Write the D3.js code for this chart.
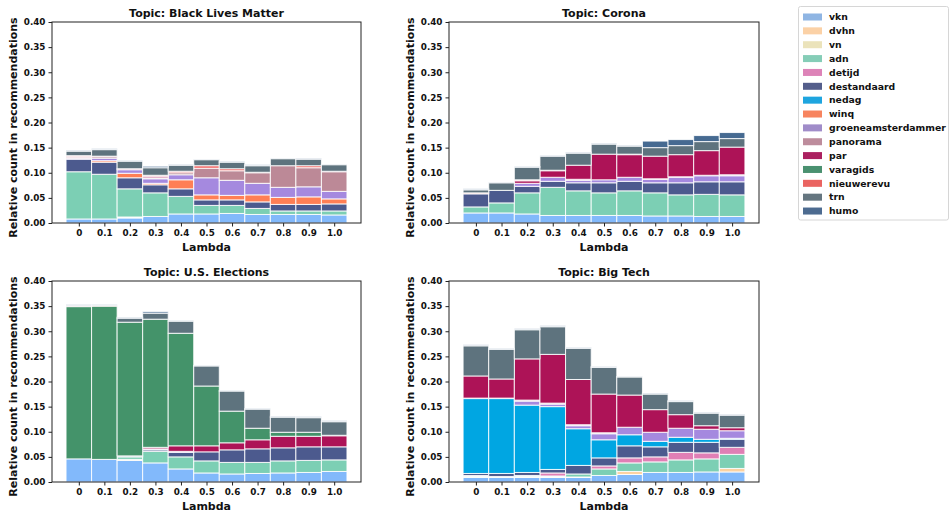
<!DOCTYPE html>
<html>
<head>
<meta charset="utf-8">
<script src="https://cdn.jsdelivr.net/npm/d3@7"></script>
<style>
  html, body { margin: 0; padding: 0; background: #fff; }
  svg text { font-family: "DejaVu Sans", sans-serif; font-weight: bold; fill: #111; }
</style>
</head>
<body>
<svg id="chart" width="952" height="512"></svg>
<script>
// Lambda values on the x axis
const lambdas = [0, 0.1, 0.2, 0.3, 0.4, 0.5, 0.6, 0.7, 0.8, 0.9, 1.0];
const lambdaLabels = ["0", "0.1", "0.2", "0.3", "0.4", "0.5", "0.6", "0.7", "0.8", "0.9", "1.0"];
const yTicks = [0, 0.05, 0.1, 0.15, 0.2, 0.25, 0.3, 0.35, 0.4];

// News sources, bottom to top of each stack
const sources = ["vkn", "dvhn", "vn", "adn", "detijd", "destandaard", "nedag", "winq",
  "groeneamsterdammer", "panorama", "par", "varagids", "nieuwerevu", "trn", "humo"];
const colors = ["#82b9fb", "#fcd2a2", "#ece3b6", "#7ccfb4", "#e07fb5", "#4c5a8e", "#00a6e2", "#ff7f55",
  "#a589df", "#bc8997", "#ad1357", "#44936a", "#f0605e", "#5e737e", "#466a91"];
const legendColors = ["#8fb5e3", "#fbd1a6", "#ebe3bb", "#85cdb7", "#dd83b8", "#545e8b", "#1ea5df", "#f7845f",
  "#a08cc9", "#bd8c9c", "#ab2060", "#4a9170", "#ea6461", "#657680", "#4d6b90"];

// Relative counts per lambda (rows) and source (columns, same order as `sources`)
const blackLivesMatter = [
  [.008, 0, 0, .094, 0, .025, 0, 0, .002, .002, .002, 0, .001, .009, .002],
  [.008, 0, 0, .089, 0, .024, 0, .003, .005, .003, 0, 0, .001, .013, .002],
  [.010, .001, .001, .056, 0, .022, 0, .009, .007, 0, .002, 0, 0, .015, .001],
  [.013, 0, 0, .047, 0, .016, 0, .003, .009, .002, .003, 0, .002, .015, .003],
  [.018, 0, 0, .035, 0, .015, 0, .018, .010, .004, 0, 0, .003, .012, .002],
  [.018, 0, 0, .017, 0, .011, 0, .010, .034, .019, 0, 0, .005, .012, .001],
  [.019, 0, 0, .016, 0, .011, 0, .009, .030, .019, 0, 0, .004, .013, .002],
  [.017, 0, 0, .012, 0, .013, 0, .014, .023, .021, 0, 0, .001, .013, .002],
  [.017, 0, 0, .007, 0, .013, 0, .014, .020, .043, 0, 0, 0, .014, .001],
  [.017, 0, 0, .007, 0, .013, 0, .015, .020, .038, 0, 0, .004, .013, .002],
  [.016, 0, 0, .008, 0, .014, 0, .010, .015, .039, .001, 0, 0, .013, .001]
];
const corona = [
  [.020, 0, 0, .012, 0, .026, 0, 0, 0, 0, 0, 0, .002, .006, .002],
  [.020, 0, 0, .020, 0, .025, 0, 0, 0, 0, 0, 0, 0, .015, .001],
  [.018, 0, 0, .042, 0, .013, 0, 0, .006, 0, .005, 0, .002, .025, .001],
  [.015, 0, 0, .056, 0, .012, 0, 0, .008, 0, .013, 0, .001, .028, .001],
  [.015, 0, 0, .049, 0, .016, 0, 0, .005, .002, .028, 0, 0, .024, .002],
  [.015, 0, 0, .045, 0, .020, 0, 0, .006, 0, .051, 0, 0, .020, .002],
  [.015, 0, 0, .049, 0, .019, 0, 0, .008, 0, .045, 0, .001, .016, .002],
  [.014, 0, 0, .046, 0, .020, 0, 0, .007, .001, .045, 0, 0, .017, .013],
  [.014, 0, 0, .042, 0, .024, 0, 0, .011, .001, .044, 0, 0, .018, .012],
  [.013, 0, 0, .044, 0, .025, 0, 0, .012, .001, .049, 0, 0, .018, .012],
  [.013, 0, 0, .043, 0, .026, 0, 0, .012, .002, .055, 0, 0, .017, .012]
];
const usElections = [
  [.046, 0, 0, 0, 0, 0, 0, 0, 0, 0, 0, .303, .001, .002, .001],
  [.045, 0, 0, 0, 0, 0, 0, 0, 0, 0, 0, .305, .001, .001, .001],
  [.043, 0, .002, .005, 0, .002, 0, 0, 0, 0, 0, .266, 0, .008, .002],
  [.038, 0, 0, .023, 0, .003, 0, 0, .002, 0, .003, .255, 0, .012, .003],
  [.026, 0, 0, .024, 0, .009, 0, 0, .002, 0, .011, .224, 0, .024, .001],
  [.018, 0, 0, .024, 0, .018, 0, 0, 0, 0, .012, .119, 0, .040, .001],
  [.016, 0, 0, .023, 0, .025, 0, 0, 0, 0, .014, .063, 0, .040, .001],
  [.017, 0, 0, .022, 0, .027, 0, 0, 0, 0, .018, .023, 0, .038, .001],
  [.018, 0, 0, .024, 0, .026, 0, 0, 0, 0, .023, .008, 0, .030, .002],
  [.019, 0, 0, .024, 0, .027, 0, 0, 0, 0, .021, .008, 0, .029, .002],
  [.021, 0, 0, .023, 0, .026, 0, 0, 0, 0, .022, .001, 0, .027, .002]
];
const bigTech = [
  [.009, 0, .002, .001, .001, .004, .149, 0, .001, 0, .044, 0, 0, .060, .002],
  [.009, 0, .002, 0, 0, .006, .149, 0, .001, 0, .038, 0, 0, .059, .002],
  [.009, 0, .002, .002, 0, .006, .134, 0, .008, .002, .082, 0, 0, .058, .002],
  [.009, 0, .002, .001, .006, .007, .125, 0, .005, .002, .097, 0, 0, .055, .002],
  [.009, 0, .001, .006, 0, .017, .073, 0, .006, .002, .090, 0, 0, .062, .002],
  [.013, 0, 0, .013, .006, .016, .036, 0, .012, .002, .077, 0, 0, .053, .002],
  [.015, .006, 0, .017, .010, .024, .022, 0, .015, 0, .064, 0, 0, .036, .001],
  [.019, 0, 0, .021, .010, .020, .011, 0, .018, 0, .045, 0, 0, .031, .002],
  [.019, 0, 0, .025, .015, .020, .010, 0, .018, 0, .027, 0, 0, .026, .002],
  [.020, 0, 0, .026, .012, .021, .006, 0, .020, 0, .007, 0, 0, .025, .002],
  [.020, .007, 0, .028, .014, .016, .002, 0, .015, 0, .006, 0, 0, .025, .002]
];

const panels = [
  { title: "Topic: Black Lives Matter", rows: blackLivesMatter, left: 52, right: 361, top: 22, bottom: 223 },
  { title: "Topic: Corona", rows: corona, left: 449, right: 759, top: 22, bottom: 223 },
  { title: "Topic: U.S. Elections", rows: usElections, left: 52, right: 361, top: 281, bottom: 482 },
  { title: "Topic: Big Tech", rows: bigTech, left: 449, right: 759, top: 281, bottom: 482 }
];

const svg = d3.select("#chart");
const barWidth = 0.1;

panels.forEach(p => {
  const x = d3.scaleLinear().domain([-0.105, 1.105]).range([p.left, p.right]);
  const y = d3.scaleLinear().domain([0, 0.4]).range([p.bottom, p.top]);
  const g = svg.append("g");

  // Stacked bars
  const table = p.rows.map((r, i) => {
    const o = { lambda: lambdas[i] };
    sources.forEach((s, j) => { o[s] = r[j]; });
    return o;
  });
  const series = d3.stack().keys(sources)(table);
  series.forEach((layer, k) => {
    g.append("g")
      .attr("fill", colors[k])
      .selectAll("rect")
      .data(layer.filter(d => d[1] - d[0] > 0))
      .join("rect")
      .attr("x", d => x(d.data.lambda - barWidth / 2))
      .attr("width", d => x(barWidth) - x(0))
      .attr("y", d => y(d[1]))
      .attr("height", d => y(d[0]) - y(d[1]))
      .attr("stroke", "#ffffff")
      .attr("stroke-opacity", 0.85)
      .attr("stroke-width", 1);
  });

  // Frame
  g.append("rect")
    .attr("x", p.left).attr("y", p.top)
    .attr("width", p.right - p.left).attr("height", p.bottom - p.top)
    .attr("fill", "none").attr("stroke", "#222").attr("stroke-width", 1);

  // Axes
  const xAxis = d3.axisBottom(x).tickValues(lambdas).tickFormat((d, i) => lambdaLabels[i])
    .tickSize(3.5).tickPadding(3);
  const yAxis = d3.axisLeft(y).tickValues(yTicks).tickFormat(d3.format(".2f"))
    .tickSize(3.5).tickPadding(3);
  const gx = g.append("g").attr("transform", `translate(0,${p.bottom})`).call(xAxis);
  const gy = g.append("g").attr("transform", `translate(${p.left},0)`).call(yAxis);
  [gx, gy].forEach(a => {
    a.select(".domain").remove();
    a.selectAll(".tick line").attr("stroke", "#222");
    a.selectAll(".tick text").attr("font-size", "8.8px").attr("font-family", "DejaVu Sans").attr("font-weight", "bold").attr("fill", "#111");
  });

  // Title and axis labels
  const cx = (p.left + p.right) / 2;
  g.append("text").attr("x", cx).attr("y", p.top - 5).attr("text-anchor", "middle")
    .attr("font-size", "11px").text(p.title);
  g.append("text").attr("x", cx).attr("y", p.bottom + 28).attr("text-anchor", "middle")
    .attr("font-size", "11px").text("Lambda");
  g.append("text")
    .attr("transform", `translate(${p.left - 35},${(p.top + p.bottom) / 2 + 5}) rotate(-90)`)
    .attr("text-anchor", "middle").attr("font-size", "11px")
    .text("Relative count in recommendations");
});

// Legend
const legend = svg.append("g");
legend.append("rect").attr("x", 798.5).attr("y", 6.5).attr("width", 150).attr("height", 213.5)
  .attr("rx", 2).attr("fill", "#fff").attr("stroke", "#d6d6d6");
sources.forEach((s, i) => {
  const yy = 17 + i * 13.86;
  legend.append("rect").attr("x", 803).attr("y", yy - 3.5).attr("width", 19).attr("height", 7)
    .attr("fill", legendColors[i]);
  legend.append("text").attr("x", 829).attr("y", yy + 3.3).attr("font-size", "9.3px").text(s);
});
</script>
</body>
</html>
